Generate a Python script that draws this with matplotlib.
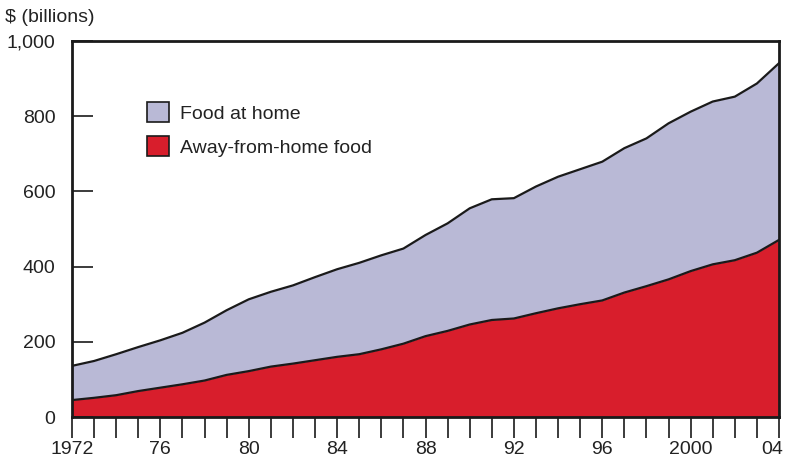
import matplotlib.pyplot as plt
from matplotlib.patches import Patch
from matplotlib.transforms import ScaledTranslation
import numpy as np

# --- data ($ billions) ---
years = list(range(1972, 2005))
away_food = [45, 51, 58, 69, 78, 87, 97, 112, 122, 134, 142, 151, 160, 167, 180, 195,
             215, 229, 246, 258, 262, 276, 289, 300, 310, 331, 348, 366, 388, 406, 417, 437, 471]
home_food = [91, 98, 109, 117, 126, 137, 154, 172, 191, 199, 208, 221, 233, 243, 250, 253,
             269, 286, 309, 321, 320, 337, 350, 359, 369, 384, 393, 415, 424, 433, 435, 450, 470]
tick_years = [1972, 1976, 1980, 1984, 1988, 1992, 1996, 2000, 2004]
tick_text = ['1972', '76', '80', '84', '88', '92', '96', '2000', '04']
y_ticks = [0, 200, 400, 600, 800, 1000]
y_text = ['0', '200', '400', '600', '800', '1,000']

plt.rcParams['font.family'] = ['Liberation Sans', 'DejaVu Sans']

home_color = '#b9b9d6'
away_color = '#d81e2c'
text_color = '#222222'

fig = plt.figure(figsize=(7.88, 4.59), dpi=100)
ax = fig.add_axes([72 / 788, 1 - 417 / 459, 707 / 788, 376 / 459])

away = np.array(away_food)
total = away + np.array(home_food)

ax.fill_between(years, 0, total, color=home_color, linewidth=0)
ax.fill_between(years, 0, away, color=away_color, linewidth=0)
ax.plot(years, total, color='#1a1a1a', linewidth=1.6)
ax.plot(years, away, color='#1a1a1a', linewidth=1.6)

ax.set_xlim(1972, 2004)
ax.set_ylim(0, 1000)

for s in ax.spines.values():
    s.set_linewidth(2)
    s.set_color('#1a1a1a')

ax.set_xticks(years)
ax.set_xticklabels([tick_text[tick_years.index(y)] if y in tick_years else '' for y in years])
ax.tick_params(axis='x', direction='out', length=15, width=1.2, color='#1a1a1a',
               labelsize=14, labelcolor=text_color, pad=2)
# last label "04" sits a little left of its tick so it stays on the page
last = ax.get_xticklabels()[-1]
last.set_transform(last.get_transform() + ScaledTranslation(-7 / 100, 0, fig.dpi_scale_trans))

ax.set_yticks(y_ticks)
ax.set_yticklabels(y_text)
ax.tick_params(axis='y', direction='in', length=15, width=1.2, color='#1a1a1a',
               labelsize=14, labelcolor=text_color, pad=12)

fig.text(5 / 788, 1 - 18 / 459, '$ (billions)', fontsize=14, color=text_color,
         ha='left', va='center')

handles = [Patch(facecolor=home_color, edgecolor='#1a1a1a', linewidth=1.2, label='Food at home'),
           Patch(facecolor=away_color, edgecolor='#1a1a1a', linewidth=1.2, label='Away-from-home food')]
leg = ax.legend(handles=handles, loc='upper left', bbox_to_anchor=(0.106, 0.837),
                frameon=False, fontsize=14, handlelength=1.15, handleheight=1.2,
                handletextpad=0.55, labelspacing=0.7, borderpad=0, borderaxespad=0)
for t in leg.get_texts():
    t.set_color(text_color)

fig.savefig('out.png', dpi=100)
